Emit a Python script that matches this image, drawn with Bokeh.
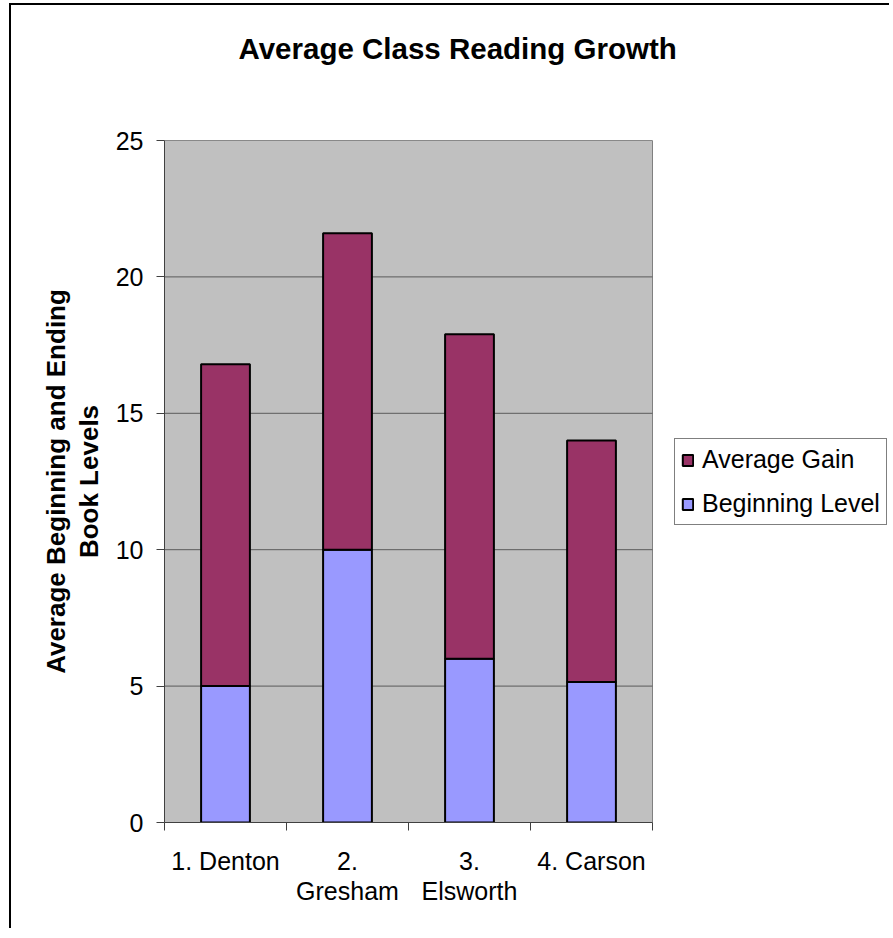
from bokeh.plotting import figure
from bokeh.models import (ColumnDataSource, FixedTicker, Legend, LegendItem,
                          LinearAxis, Range1d)
from bokeh.embed import file_html
from bokeh.resources import INLINE

# Classes (tick labels), series values and value-axis ticks
classes = ["1. Denton", "2.\nGresham", "3.\nElsworth", "4. Carson"]
beginning_level = [5.0, 10.0, 6.0, 5.15]
average_gain = [11.8, 11.6, 11.9, 8.85]
y_ticks = [0, 5, 10, 15, 20, 25]
chart_title = "Average Class Reading Growth"

GAIN_COLOR = "#993366"
BEGIN_COLOR = "#9999FF"
AREA_COLOR = "#C0C0C0"
GRID_COLOR = "#5a5a5a"
AXIS_COLOR = "#404040"
FONT = "Liberation Sans"

# Canvas layout (pixels)
CANVAS_W, CANVAS_H = 880, 925
LEFT, TOP, BOTTOM = 153, 135, 108
AREA_W = 488                      # width of the grey plotting area
FRAME_W = CANVAS_W - LEFT         # frame also hosts the legend on the right

n = len(classes)
px_to_x = n / AREA_W
# Each class occupies one unit on the x axis; bars sit in the middle of it
x_pos = [i + 0.5 for i in range(n)]
ending_level = [b + g for b, g in zip(beginning_level, average_gain)]

source = ColumnDataSource(dict(x=x_pos, begin=beginning_level,
                               gain=average_gain, end=ending_level))

p = figure(width=CANVAS_W, height=CANVAS_H, output_backend="svg",
           toolbar_location=None, title=chart_title,
           x_range=Range1d(0, FRAME_W * px_to_x), y_range=Range1d(0, y_ticks[-1]),
           min_border_left=LEFT, min_border_right=0,
           min_border_top=TOP, min_border_bottom=BOTTOM)

xaxis = p.below[0]
yaxis = p.left[0]

# Outer chart frame (left and top edges), drawn as an offset shadow
p.styles = {"margin-left": "11px", "margin-top": "5px", "overflow": "hidden",
            "box-shadow": "-2px -2px 0px 0px #000000"}

p.background_fill_color = "white"
p.border_fill_color = "white"
p.outline_line_color = None
p.xgrid.visible = False
p.ygrid.visible = False

# Empty axis above the plot area: keeps the title well clear of it
gap_axis = LinearAxis(ticker=FixedTicker(ticks=[]),
                      major_tick_out=0, major_tick_in=0,
                      minor_tick_out=0, minor_tick_in=0, major_label_standoff=0,
                      axis_line_color=None, major_tick_line_color=None,
                      minor_tick_line_color=None,
                      axis_label=" ", axis_label_standoff=62,
                      axis_label_text_font=FONT, axis_label_text_font_size="10px")
p.add_layout(gap_axis, "above")

p.title.text_font = FONT
p.title.text_font_size = "29.5px"
p.title.text_font_style = "bold"
p.title.text_color = "black"
p.title.align = "left"
p.title.offset = 74
p.title.standoff = 0

# Grey plotting area with its horizontal gridlines
p.quad(left=[0], right=[n], bottom=[y_ticks[0]], top=[y_ticks[-1]],
       fill_color=AREA_COLOR, line_color="#808080", line_width=1)
p.segment(x0=[0] * (len(y_ticks) - 1), x1=[n] * (len(y_ticks) - 1),
          y0=y_ticks[1:], y1=y_ticks[1:], line_color=GRID_COLOR, line_width=1)

# Value axis
yaxis.ticker = FixedTicker(ticks=y_ticks)
yaxis.axis_label = "Average Beginning and Ending\nBook Levels"
yaxis.axis_label_text_font = FONT
yaxis.axis_label_text_font_size = "26px"
yaxis.axis_label_text_font_style = "bold"
yaxis.axis_label_text_color = "black"
yaxis.axis_label_text_line_height = 1.1
yaxis.axis_label_standoff = 9
yaxis.major_label_text_font = FONT
yaxis.major_label_text_font_size = "25px"
yaxis.major_label_text_color = "black"
yaxis.major_label_standoff = 13
yaxis.major_tick_out = 8
yaxis.major_tick_in = 0
yaxis.minor_tick_out = 0
yaxis.minor_tick_in = 0
yaxis.axis_line_color = AXIS_COLOR
yaxis.major_tick_line_color = AXIS_COLOR

# Category axis: labels in the middle, tick marks on the category boundaries
xaxis.bounds = (0, n)
xaxis.ticker = FixedTicker(ticks=x_pos, minor_ticks=list(range(n + 1)))
xaxis.major_label_overrides = {x: c for x, c in zip(x_pos, classes)}
xaxis.major_label_text_font = FONT
xaxis.major_label_text_font_size = "25px"
xaxis.major_label_text_color = "black"
xaxis.major_label_text_line_height = 1.1
xaxis.major_label_standoff = 16
xaxis.major_tick_out = 0
xaxis.major_tick_in = 0
xaxis.minor_tick_out = 8
xaxis.minor_tick_in = 0
xaxis.axis_line_color = AXIS_COLOR
xaxis.minor_tick_line_color = AXIS_COLOR

# Stacked bars: beginning level at the bottom, gain on top of it
r_begin = p.vbar(x="x", bottom=0, top="begin", width=0.4, source=source,
                 fill_color=BEGIN_COLOR, line_color="black", line_width=2)
r_gain = p.vbar(x="x", bottom="begin", top="end", width=0.4, source=source,
                fill_color=GAIN_COLOR, line_color="black", line_width=2)

legend = Legend(items=[LegendItem(label="Average Gain", renderers=[r_gain]),
                       LegendItem(label="Beginning Level", renderers=[r_begin])],
                location=(AREA_W + 22, 297), margin=0, padding=6, spacing=15,
                glyph_width=13, glyph_height=14, label_height=28, label_standoff=8,
                label_text_font=FONT, label_text_font_size="25px",
                label_text_color="black",
                border_line_color="black", border_line_width=1,
                background_fill_color="white", background_fill_alpha=1.0)
p.add_layout(legend)

open("out.html", "w").write(file_html(p, INLINE))
